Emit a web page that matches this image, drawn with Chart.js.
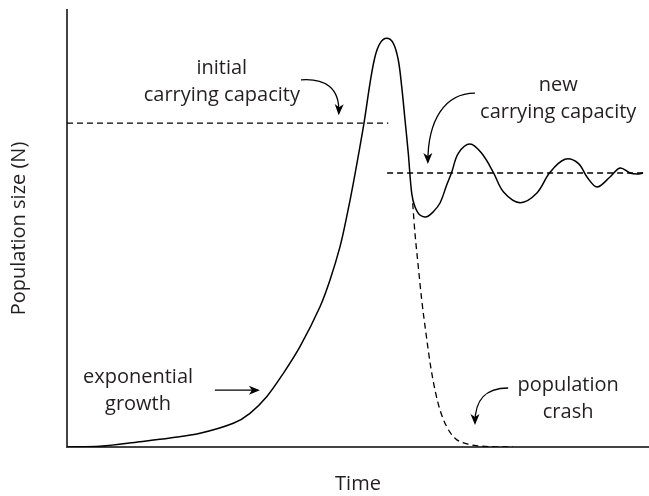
<!DOCTYPE html>
<html lang="en">
<head>
<meta charset="UTF-8">
<title>Population growth and carrying capacity</title>
<script src="https://cdn.jsdelivr.net/npm/chart.js"></script>
<style>
  html, body { margin: 0; padding: 0; background: #fff; }
</style>
</head>
<body>
<canvas id="popChart" width="649" height="496"></canvas>
<script>
// time on x and population size on y, both on a 0-100 scale
const growthTime = [0, 5.67, 12.54, 17.7, 22.85, 28.57, 31.44, 34.31, 37.17, 40.03, 43.47, 45.19, 46.91,
  48.06, 49.19, 51.03, 52.06, 52.92, 53.78, 54.93, 56.07, 56.92, 57.51, 58.08, 58.64, 59.23, 59.79,
  60.65, 61.8, 62.94, 64.09, 65.24, 66.1, 67.23, 69.24, 71.25, 73.25, 74.97, 77.84, 80.7, 82.99,
  85.57, 87.85, 89.35, 91.07, 93.3, 95.02, 96.74, 97.94, 98.97];
const growthSize = [0, 0.16, 1.21, 2.06, 3.14, 5.42, 7.71, 11.51, 16.86, 22.95, 32.1, 38.22, 45.84,
  52.7, 60.34, 74.14, 83.23, 89.31, 92.38, 93.52, 92.38, 88.56, 82.45, 74.83, 67.21, 58.05, 54.99,
  53.09, 52.7, 53.84, 55.84, 59.95, 62.86, 67.21, 69.34, 67.21, 62.86, 58.42, 55.9, 58.05, 62.86,
  65.84, 64.92, 61.78, 59.5, 61.78, 63.84, 62.7, 62.47, 62.7];

// the branch where the population collapses instead of settling
const crashTime = [59.4, 59.79, 60.36, 60.95, 61.68, 62.49, 63.23, 64.09, 65.24, 66.67, 68.73, 70.96, 73.54, 76.63];
const crashSize = [55.77, 48.9, 41.26, 33.64, 26.02, 18.38, 13.04, 8.47, 4.65, 1.99, 0.69, 0.23, 0.05, 0];

// carrying capacities: level and time span
const initialK = 74.1;
const initialKSpan = [0, 55.2];
const newK = 62.7;
const newKSpan = [55.0, 99.0];

const toPoints = (xs, ys) => xs.map((x, i) => ({ x: x, y: ys[i] }));

// text notes with their arrows (data units)
const notes = [
  { lines: ['initial', 'carrying capacity'], at: [26.6, 86.7],
    arrow: [[40.2, 84.0], [44.3, 84.4], [46.9, 82.2], [46.7, 76.4]] },
  { lines: ['new', 'carrying capacity'], at: [84.4, 82.8],
    arrow: [[70.1, 81.0], [64.9, 81.0], [62.0, 74.8], [62.0, 65.2]] },
  { lines: ['exponential', 'growth'], at: [12.2, 16.0],
    arrow: [[25.4, 13.0], [28.0, 13.0], [30.0, 13.0], [32.8, 13.0]] },
  { lines: ['population', 'crash'], at: [86.1, 14.2],
    arrow: [[75.8, 13.5], [71.8, 13.5], [70.1, 10.8], [70.1, 5.5]] }
];

const FONT = '"Open Sans", "Noto Sans", sans-serif';
const INK = '#231f20';

const notesPlugin = {
  id: 'notes',
  afterDatasetsDraw(chart) {
    const { ctx, scales: { x, y } } = chart;
    ctx.save();
    ctx.font = '20px ' + FONT;
    ctx.fillStyle = INK;
    ctx.textAlign = 'center';
    ctx.textBaseline = 'middle';
    notes.forEach(n => {
      const cx = x.getPixelForValue(n.at[0]);
      const cy = y.getPixelForValue(n.at[1]);
      n.lines.forEach((t, i) => ctx.fillText(t, cx, cy + i * 27));

      const p = n.arrow.map(a => [x.getPixelForValue(a[0]), y.getPixelForValue(a[1])]);
      ctx.strokeStyle = '#000';
      ctx.lineWidth = 1.3;
      ctx.beginPath();
      ctx.moveTo(p[0][0], p[0][1]);
      ctx.bezierCurveTo(p[1][0], p[1][1], p[2][0], p[2][1], p[3][0], p[3][1]);
      ctx.stroke();

      // notched arrowhead at the end of the curve
      const ang = Math.atan2(p[3][1] - p[2][1], p[3][0] - p[2][0]);
      ctx.save();
      ctx.translate(p[3][0], p[3][1]);
      ctx.rotate(ang);
      ctx.fillStyle = '#000';
      ctx.beginPath();
      ctx.moveTo(2, 0);
      ctx.lineTo(-9, -4.5);
      ctx.lineTo(-6, 0);
      ctx.lineTo(-9, 4.5);
      ctx.closePath();
      ctx.fill();
      ctx.restore();
    });
    ctx.restore();
  }
};

new Chart(document.getElementById('popChart'), {
  type: 'line',
  data: {
    datasets: [
      {
        label: 'population',
        data: toPoints(growthTime, growthSize),
        borderColor: '#000',
        borderWidth: 1.5,
        pointRadius: 0,
        tension: 0.35
      },
      {
        label: 'crash',
        data: toPoints(crashTime, crashSize),
        borderColor: '#000',
        borderWidth: 1.3,
        borderDash: [6, 4],
        pointRadius: 0,
        cubicInterpolationMode: 'monotone'
      },
      {
        label: 'initial K',
        data: initialKSpan.map(t => ({ x: t, y: initialK })),
        borderColor: '#000',
        borderWidth: 1.3,
        borderDash: [6, 4],
        pointRadius: 0
      },
      {
        label: 'new K',
        data: newKSpan.map(t => ({ x: t, y: newK })),
        borderColor: '#000',
        borderWidth: 1.3,
        borderDash: [6, 4],
        pointRadius: 0
      }
    ]
  },
  options: {
    responsive: false,
    animation: false,
    layout: { padding: { top: 10, right: 0, left: 0, bottom: 0 } },
    plugins: { legend: { display: false }, tooltip: { enabled: false } },
    scales: {
      x: {
        type: 'linear',
        min: 0,
        max: 100,
        grid: { display: false },
        ticks: { display: false },
        border: { display: true, color: '#444', width: 2 },
        title: {
          display: true,
          text: 'Time',
          color: INK,
          font: { family: FONT, size: 20 },
          padding: { top: 0, bottom: 0 }
        },
        afterFit(s) { s.height = 49; }
      },
      y: {
        min: 0,
        max: 100,
        grid: { display: false },
        ticks: { display: false },
        border: { display: true, color: '#444', width: 2 },
        title: {
          display: true,
          text: 'Population size (N)',
          color: INK,
          font: { family: FONT, size: 20 },
          padding: { top: 7, bottom: 0 }
        },
        afterFit(s) { s.width = 67; }
      }
    }
  },
  plugins: [notesPlugin]
});
</script>
</body>
</html>
